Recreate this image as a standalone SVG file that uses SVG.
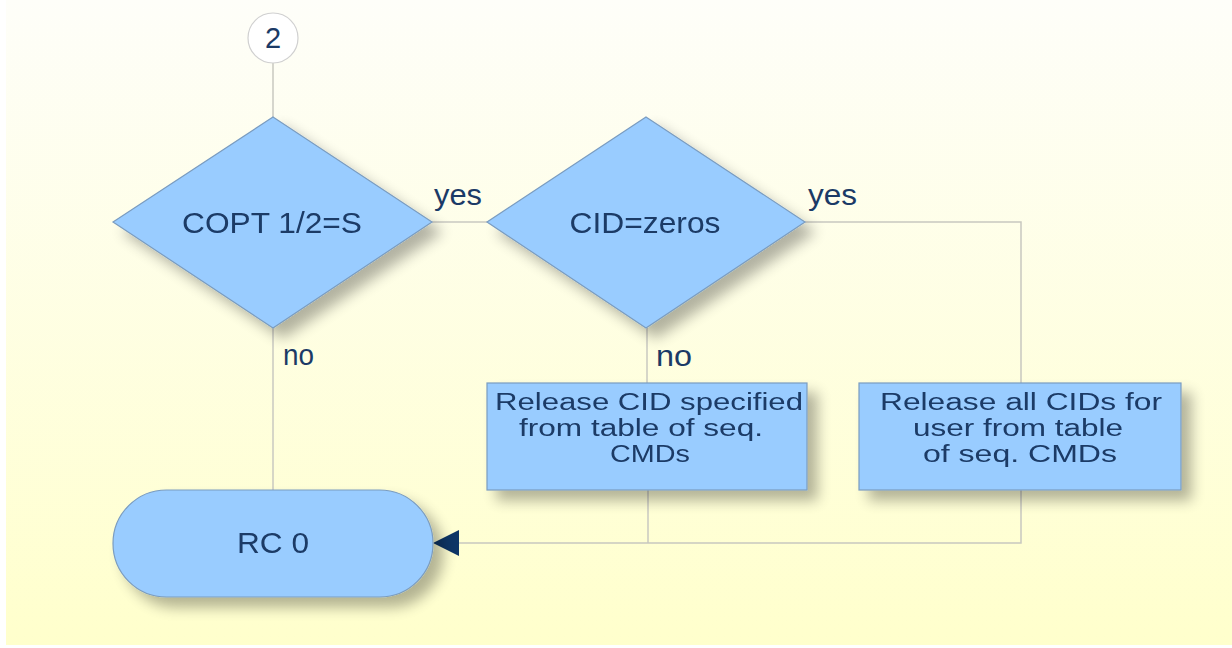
<svg xmlns="http://www.w3.org/2000/svg" width="1232" height="648" viewBox="0 0 1232 648">
<defs>
<linearGradient id="bg" x1="0" y1="0" x2="0" y2="1">
<stop offset="0" stop-color="#fefef9"/>
<stop offset="1" stop-color="#ffffcc"/>
</linearGradient>
<filter id="sh" x="-20%" y="-20%" width="150%" height="150%">
<feGaussianBlur in="SourceAlpha" stdDeviation="7"/>
<feOffset dx="10" dy="10" result="b"/>
<feComponentTransfer><feFuncA type="linear" slope="0.3"/></feComponentTransfer>
<feMerge><feMergeNode/><feMergeNode in="SourceGraphic"/></feMerge>
</filter>
</defs>
<style>
.shape{fill:#99ccff;stroke:#7a9cc0;stroke-width:1.2}
.t{font-family:"Liberation Sans",Arial,sans-serif;font-size:29px;fill:#1b3a66;text-anchor:middle}
.b{font-family:"Liberation Sans",Arial,sans-serif;font-size:23px;fill:#1b3a66;text-anchor:middle}
.l{font-family:"Liberation Sans",Arial,sans-serif;font-size:29px;fill:#1b3a66}
.c{fill:none;stroke:#c8c8c0;stroke-width:1.5}
</style>
<rect x="6" y="0" width="1226" height="645" fill="url(#bg)"/>
<g id="connectors">
<line class="c" x1="273" y1="62" x2="273" y2="117"/>
<line class="c" x1="432" y1="222" x2="487" y2="222"/>
<polyline class="c" points="805,222 1021,222 1021,383"/>
<line class="c" x1="273" y1="328" x2="273" y2="490"/>
<line class="c" x1="647" y1="328" x2="647" y2="383"/>
<polyline class="c" points="648,490 648,543"/>
<polyline class="c" points="1021,490 1021,543 459,543"/>
<path d="M433,543 L459,530 L459,556 Z" fill="#0d3566"/>
<text class="l" x="434" y="205" textLength="48" lengthAdjust="spacingAndGlyphs">yes</text>
<text class="l" x="808" y="205" textLength="49" lengthAdjust="spacingAndGlyphs">yes</text>
<text class="l" x="283" y="365" textLength="31" lengthAdjust="spacingAndGlyphs">no</text>
<text class="l" x="656" y="366" textLength="36" lengthAdjust="spacingAndGlyphs">no</text>
</g>
<g id="start2">
<circle cx="273" cy="38" r="25" fill="#ffffff" stroke="#d0d0d0" stroke-width="1.2"/>
<text class="t" x="273" y="48">2</text>
</g>
<g id="dec1" filter="url(#sh)">
<polygon class="shape" points="273,117 432,222 273,328 113,222"/>
<text class="t" x="272" y="233" textLength="180" lengthAdjust="spacingAndGlyphs">COPT 1/2=S</text>
</g>
<g id="dec2" filter="url(#sh)">
<polygon class="shape" points="646,117 805,222 646,328 487,222"/>
<text class="t" x="645" y="233" textLength="151" lengthAdjust="spacingAndGlyphs">CID=zeros</text>
</g>
<g id="box1" filter="url(#sh)">
<rect class="shape" x="487" y="383" width="320" height="107"/>
<text class="b" x="649" y="410" textLength="308" lengthAdjust="spacingAndGlyphs">Release CID specified</text>
<text class="b" x="641" y="436" textLength="244" lengthAdjust="spacingAndGlyphs">from table of seq.</text>
<text class="b" x="650" y="462" textLength="80" lengthAdjust="spacingAndGlyphs">CMDs</text>
</g>
<g id="box2" filter="url(#sh)">
<rect class="shape" x="859" y="383" width="322" height="107"/>
<text class="b" x="1021" y="410" textLength="282" lengthAdjust="spacingAndGlyphs">Release all CIDs for</text>
<text class="b" x="1018" y="436" textLength="210" lengthAdjust="spacingAndGlyphs">user from table</text>
<text class="b" x="1020" y="462" textLength="194" lengthAdjust="spacingAndGlyphs">of seq. CMDs</text>
</g>
<g id="rc0" filter="url(#sh)">
<rect class="shape" x="113" y="490" width="320" height="107" rx="53.5" ry="53.5"/>
<text class="t" x="273" y="553" textLength="72" lengthAdjust="spacingAndGlyphs">RC 0</text>
</g>
</svg>
